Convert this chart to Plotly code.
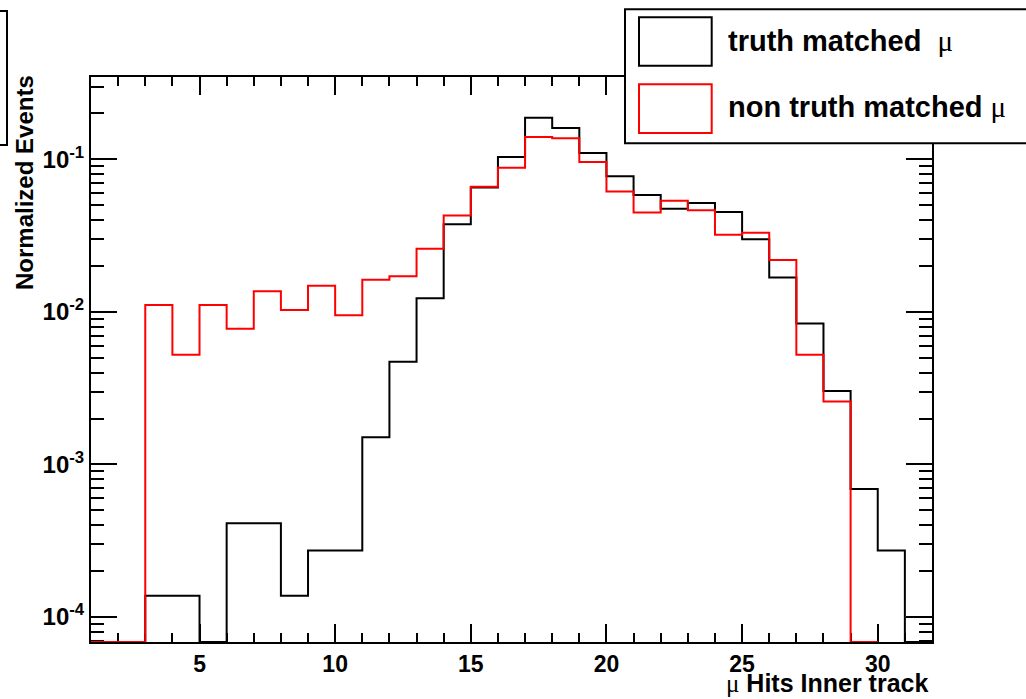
import plotly.graph_objects as go

# ---------------- data ----------------
# truth matched mu: bins [1,2), [2,3), ... [31,32)
truth_edges = [1, 2, 3, 4, 5, 6, 7, 8, 9, 10, 11, 12, 13, 14, 15, 16,
               17, 18, 19, 20, 21, 22, 23, 24, 25, 26, 27, 28, 29, 30, 31, 32]
truth_vals = [0, 0, 1.38e-4, 1.38e-4, 0, 4.12e-4, 4.12e-4, 1.38e-4, 2.73e-4, 2.73e-4,
              1.51e-3, 4.71e-3, 0.01227, 0.0375, 0.0655, 0.1036, 0.1875, 0.1604, 0.110, 0.0774,
              0.0584, 0.0475, 0.0518, 0.0452, 0.0299, 0.01683, 0.00841, 0.00303, 6.89e-4, 2.73e-4,
              0]

# non truth matched mu: bins [1,2) ... [29,30)
nontruth_edges = [1, 2, 3, 4, 5, 6, 7, 8, 9, 10, 11, 12, 13, 14, 15, 16,
                  17, 18, 19, 20, 21, 22, 23, 24, 25, 26, 27, 28, 29, 30]
nontruth_vals = [0, 0, 0.0111, 0.00524, 0.0111, 0.00776, 0.01368, 0.01028, 0.01486, 0.00952,
                 0.01626, 0.0171, 0.0259, 0.0428, 0.0662, 0.0882, 0.140, 0.1375, 0.0960, 0.0616,
                 0.0449, 0.0536, 0.0464, 0.0321, 0.0330, 0.0219, 0.00524, 0.00259, 0]

legend_labels = ["truth matched", "non truth matched"]
x_title = "Hits Inner track"
y_title = "Normalized Events"
y_major = [1e-4, 1e-3, 1e-2, 1e-1]
y_major_text = ["10<sup>-4</sup>", "10<sup>-3</sup>", "10<sup>-2</sup>", "10<sup>-1</sup>"]

# ---------------- layout geometry ----------------
W, H = 1026, 699
ML, MR, MT, MB = 91, 94, 77, 57
PW, PH = W - ML - MR, H - MT - MB
x_range = [1, 32]
y_range = [-4.164, -0.46]
floor = 10 ** y_range[0]


def px(x):
    return (x - ML) / PW


def py(y):
    return (H - MB - y) / PH


def step(edges, vals):
    ys = [v if v > 0 else floor for v in vals]
    return edges, ys + [ys[-1]]


FONT = "Liberation Sans, Arial, sans-serif"
SYM = "Liberation Serif, DejaVu Serif, serif"

fig = go.Figure()
tx, ty = step(truth_edges, truth_vals)
fig.add_trace(go.Scatter(x=tx, y=ty, mode="lines", line=dict(color="black", width=2, shape="hv"),
                         name=legend_labels[0], showlegend=False, hoverinfo="skip"))
nx, ny = step(nontruth_edges, nontruth_vals)
fig.add_trace(go.Scatter(x=nx, y=ny, mode="lines", line=dict(color="#ff0000", width=2, shape="hv"),
                         name=legend_labels[1], showlegend=False, hoverinfo="skip"))

y_minor = [k * 10 ** d for d in range(-5, 0) for k in range(2, 10)] + [0.2, 0.3]

fig.update_layout(
    width=W, height=H,
    margin=dict(l=ML, r=MR, t=MT, b=MB, pad=0),
    paper_bgcolor="white", plot_bgcolor="white",
    showlegend=False,
    xaxis=dict(
        range=x_range, showgrid=False, zeroline=False,
        showline=True, linecolor="black", linewidth=2, mirror="ticks",
        ticks="inside", ticklen=18, tickwidth=2, tickcolor="black",
        tick0=0, dtick=5,
        minor=dict(ticks="inside", ticklen=9, tickwidth=2, tickcolor="black", dtick=1, tick0=0,
                   showgrid=False),
        tickfont=dict(family=FONT, size=23, color="black", weight="bold"),
        layer="below traces",
    ),
    yaxis=dict(
        type="log", range=y_range, showgrid=False, zeroline=False,
        showline=True, linecolor="black", linewidth=2, mirror="ticks",
        ticks="inside", ticklen=26, tickwidth=2, tickcolor="black",
        tickmode="array", tickvals=y_major, ticktext=y_major_text,
        minor=dict(ticks="inside", ticklen=13, tickwidth=2, tickcolor="black",
                   tickmode="array", tickvals=y_minor, showgrid=False),
        tickfont=dict(family=FONT, size=24, color="black", weight="bold"),
        layer="below traces",
    ),
)

shapes = []
# clipped box at the left edge
shapes.append(dict(type="rect", xref="paper", yref="paper",
                   x0=px(-20), x1=px(7), y0=py(145), y1=py(11),
                   line=dict(color="black", width=2), fillcolor="white", layer="above"))
# legend box
shapes.append(dict(type="rect", xref="paper", yref="paper",
                   x0=px(625), x1=px(1060), y0=py(143.3), y1=py(9.3),
                   line=dict(color="black", width=2), fillcolor="white", layer="above"))
shapes.append(dict(type="rect", xref="paper", yref="paper",
                   x0=px(639), x1=px(711.7), y0=py(65.7), y1=py(17.3),
                   line=dict(color="black", width=2), fillcolor="rgba(0,0,0,0)", layer="above"))
shapes.append(dict(type="rect", xref="paper", yref="paper",
                   x0=px(639), x1=px(711.7), y0=py(133), y1=py(84.3),
                   line=dict(color="#ff0000", width=2), fillcolor="rgba(0,0,0,0)", layer="above"))
fig.update_layout(shapes=shapes)

mu = "<span style='font-family:%s;font-weight:normal'>μ</span>" % SYM
annotations = [
    dict(text="<b>%s</b>  %s" % (legend_labels[0], mu), x=px(726), y=py(41),
         xanchor="left", yanchor="middle"),
    dict(text="<b>%s</b> %s" % (legend_labels[1], mu), x=px(726), y=py(107.5),
         xanchor="left", yanchor="middle"),
]
for a in annotations:
    a.update(xref="paper", yref="paper", showarrow=False,
             font=dict(family=FONT, size=29, color="black"))
annotations.append(dict(text="<b>%s</b>" % y_title, x=px(24), y=py(183), xref="paper", yref="paper",
                        textangle=-90, xanchor="center", yanchor="middle", showarrow=False,
                        font=dict(family=FONT, size=24, color="black")))
annotations.append(dict(text="%s <b>%s</b>" % (mu, x_title), x=px(930), y=py(699),
                        xref="paper", yref="paper", xanchor="right", yanchor="bottom",
                        showarrow=False, font=dict(family=FONT, size=25, color="black")))
fig.update_layout(annotations=annotations)

fig.write_html("out.html")
